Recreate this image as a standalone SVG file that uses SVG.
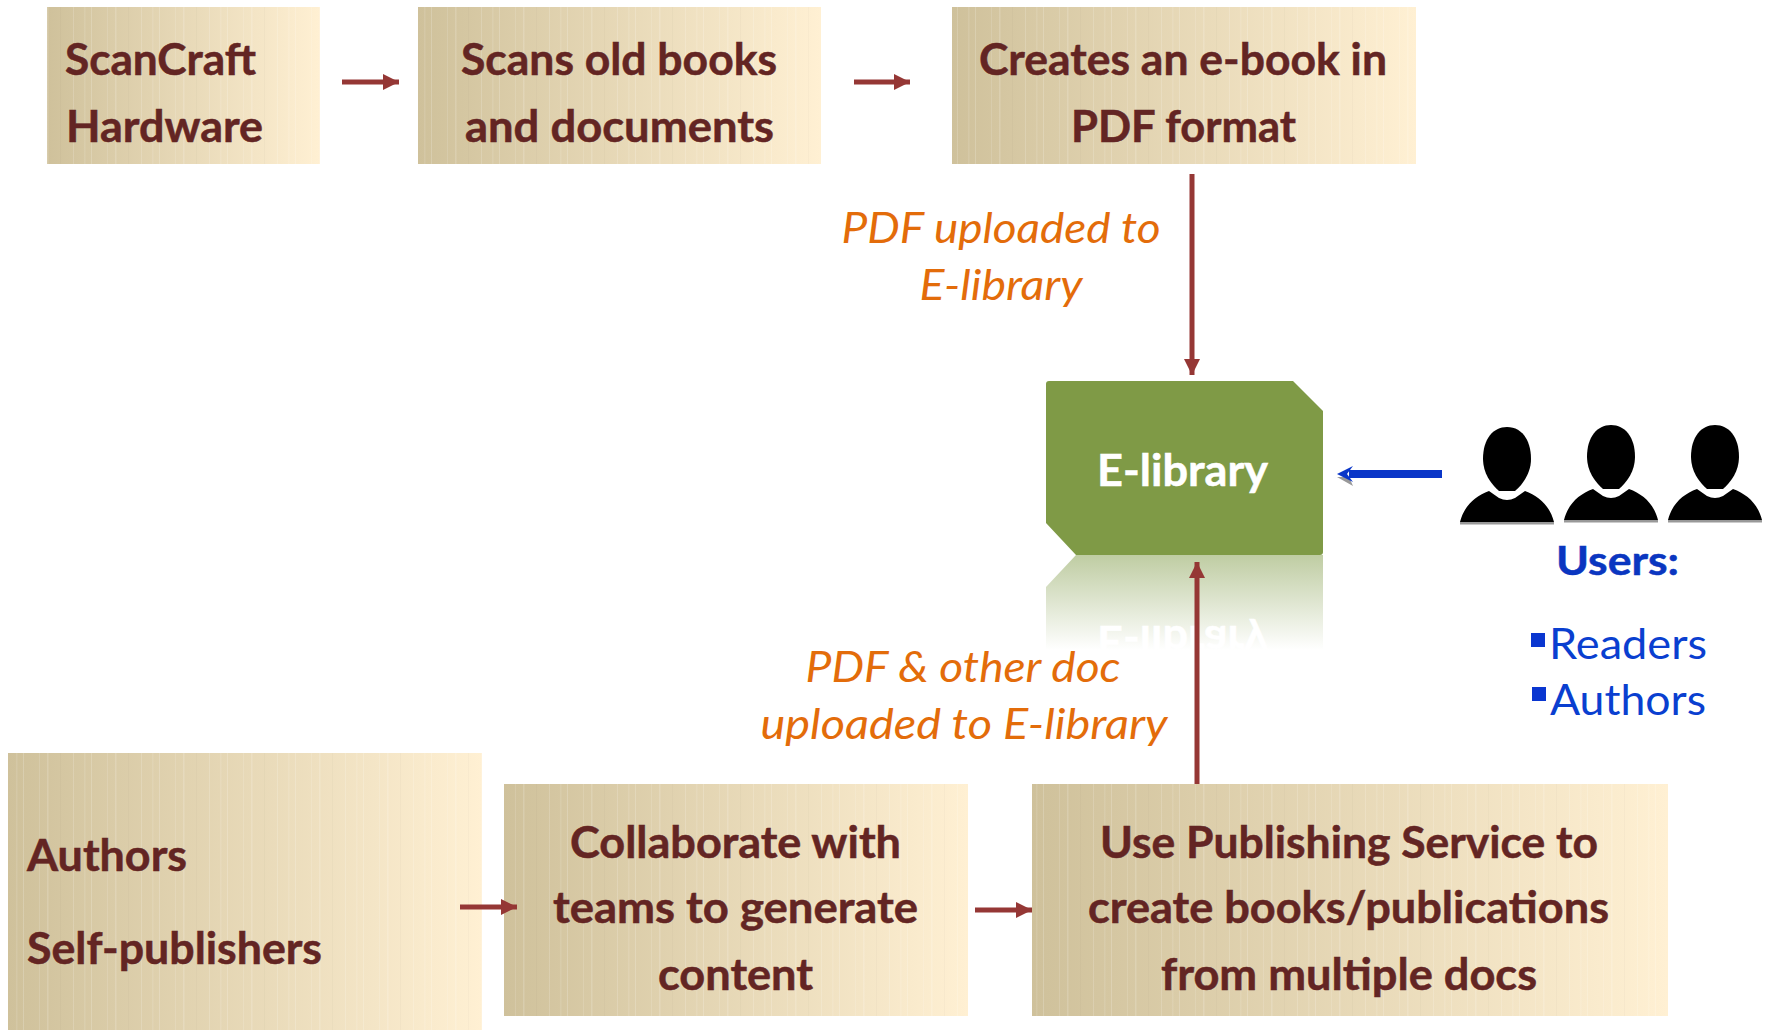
<svg xmlns="http://www.w3.org/2000/svg" width="1768" height="1030" viewBox="0 0 1768 1030">
<style>
text{font-family:"Lato","Liberation Sans",sans-serif}
.b{font-weight:700;font-size:43px;fill:#632523;stroke:#632523;stroke-width:.5}
.o{font-style:italic;font-size:43px;fill:#e36c0a;text-anchor:middle}
.line{stroke:#953735;stroke-width:5;fill:none}
.stripes{fill:url(#st)}
.lib{font-weight:700;font-size:43px;fill:#fff;stroke:#fff;stroke-width:.5}
</style>
<defs>
<linearGradient id="g"><stop offset="0" stop-color="#cfc19b"/><stop offset="1" stop-color="#fff0d3"/></linearGradient>
<pattern id="st" patternUnits="userSpaceOnUse" width="68" height="10">
<rect x="5" width="1" height="10" fill="#fff" opacity=".16"/><rect x="16" width="1.5" height="10" fill="#fff" opacity=".1"/><rect x="23" width="1" height="10" fill="#fff" opacity=".18"/><rect x="39" width="1" height="10" fill="#fff" opacity=".12"/><rect x="47" width="1.5" height="10" fill="#fff" opacity=".16"/><rect x="60" width="1" height="10" fill="#000" opacity=".02"/>
</pattern>
<linearGradient id="refl" x1="0" y1="0" x2="0" y2="1"><stop offset="0" stop-color="#7f9a46" stop-opacity=".5"/><stop offset="1" stop-color="#7f9a46" stop-opacity="0"/></linearGradient>
<clipPath id="rc"><rect x="1040" y="555" width="290" height="95"/></clipPath>
<marker id="ah" markerUnits="userSpaceOnUse" markerWidth="18" markerHeight="18" refX="16" refY="8" orient="auto"><path d="M0 0L16 8L0 16Z" fill="#953735"/></marker>
<symbol id="person" overflow="visible" viewBox="-50 -2 100 102" width="100" height="102">
<path d="M0 0C14 0 24 12 24 32C24 46 16 57 8 64L-8 64C-16 57-24 46-24 32C-24 12-14 0 0 0Z" fill="#000"/>
<path d="M-47 95C-43 79-32 69-18 64L-8 71Q0 75 8 71L18 64C32 69 43 79 47 95Z" fill="#000"/>
<rect x="-47" y="95" width="94" height="2.5" fill="#999"/>
</symbol>
</defs>
<rect width="1768" height="1030" fill="#fff"/>

<g id="node-scancraft"><rect x="47" y="7" width="273" height="157" fill="url(#g)"/><rect x="47" y="7" width="273" height="157" class="stripes"/>
<text class="b" x="65" y="75" textLength="191" lengthAdjust="spacingAndGlyphs">ScanCraft</text><text class="b" x="66" y="142" textLength="197" lengthAdjust="spacingAndGlyphs">Hardware</text></g>

<g id="node-scans"><rect x="418" y="7" width="403" height="157" fill="url(#g)"/><rect x="418" y="7" width="403" height="157" class="stripes"/>
<text class="b" x="461" y="75" textLength="316" lengthAdjust="spacingAndGlyphs">Scans old books</text><text class="b" x="465" y="142" textLength="309" lengthAdjust="spacingAndGlyphs">and documents</text></g>

<g id="node-creates"><rect x="952" y="7" width="464" height="157" fill="url(#g)"/><rect x="952" y="7" width="464" height="157" class="stripes"/>
<text class="b" x="979" y="75" textLength="408" lengthAdjust="spacingAndGlyphs">Creates an e-book in</text><text class="b" x="1071" y="142" textLength="225" lengthAdjust="spacingAndGlyphs">PDF format</text></g>

<g id="node-elibrary">
<path d="M1076 555H1323V650H1046V587Z" fill="url(#refl)"/>
<g clip-path="url(#rc)"><text class="lib" transform="translate(0 1112) scale(1 -1)" x="1097" y="486" textLength="171" lengthAdjust="spacingAndGlyphs">E-library</text></g>
<path d="M1049 381H1293L1323 411V552Q1323 555 1320 555H1076L1046 523V384Q1046 381 1049 381Z" fill="#7f9a46"/>
<text class="lib" x="1097" y="486" textLength="171" lengthAdjust="spacingAndGlyphs">E-library</text>
</g>

<g id="node-users">
<use href="#person" x="1457" y="425"/><use href="#person" x="1561" y="423"/><use href="#person" x="1665" y="423"/>
<text x="1556" y="575" textLength="123" lengthAdjust="spacingAndGlyphs" font-weight="700" fill="#0a36c0" stroke="#0a36c0" stroke-width=".5" style="font-size:41px">Users:</text>
<rect x="1531" y="633" width="14" height="14" fill="#0a36d0"/>
<text x="1549" y="659" textLength="158" lengthAdjust="spacingAndGlyphs" fill="#0a3fd0" style="font-size:43px">Readers</text>
<rect x="1532" y="687" width="14" height="14" fill="#0a36d0"/>
<text x="1550" y="715" textLength="156" lengthAdjust="spacingAndGlyphs" fill="#0a3fd0" style="font-size:43px">Authors</text>
</g>

<g id="node-authors"><rect x="8" y="753" width="474" height="277" fill="url(#g)"/><rect x="8" y="753" width="474" height="277" class="stripes"/>
<text class="b" x="27" y="871" textLength="160" lengthAdjust="spacingAndGlyphs">Authors</text><text class="b" x="27" y="964" textLength="295" lengthAdjust="spacingAndGlyphs">Self-publishers</text></g>

<g id="node-collaborate"><rect x="504" y="784" width="464" height="232" fill="url(#g)"/><rect x="504" y="784" width="464" height="232" class="stripes"/>
<text class="b" x="570" y="858" textLength="331" lengthAdjust="spacingAndGlyphs">Collaborate with</text><text class="b" x="553" y="923" textLength="365" lengthAdjust="spacingAndGlyphs">teams to generate</text><text class="b" x="658" y="990" textLength="155" lengthAdjust="spacingAndGlyphs">content</text></g>

<g id="node-publishing"><rect x="1032" y="784" width="636" height="232" fill="url(#g)"/><rect x="1032" y="784" width="636" height="232" class="stripes"/>
<text class="b" x="1100" y="858" textLength="498" lengthAdjust="spacingAndGlyphs">Use Publishing Service to</text><text class="b" x="1088" y="923" textLength="521" lengthAdjust="spacingAndGlyphs">create books/publications</text><text class="b" x="1161" y="990" textLength="376" lengthAdjust="spacingAndGlyphs">from multiple docs</text></g>

<g id="labels">
<text class="o" x="1001" y="243" textLength="319" lengthAdjust="spacingAndGlyphs">PDF uploaded to</text>
<text class="o" x="1001" y="300" textLength="163" lengthAdjust="spacingAndGlyphs">E-library</text>
<text class="o" x="963" y="682" textLength="315" lengthAdjust="spacingAndGlyphs">PDF &amp; other doc</text>
<text class="o" x="964" y="739" textLength="407" lengthAdjust="spacingAndGlyphs">uploaded to E-library</text>
</g>

<g id="connectors">
<path class="line" d="M342 82H399" marker-end="url(#ah)"/>
<path class="line" d="M854 82H910" marker-end="url(#ah)"/>
<path class="line" d="M1192 174V375" marker-end="url(#ah)"/>
<path class="line" d="M460 907L517 907" marker-end="url(#ah)"/>
<path class="line" d="M975 910L1032 910" marker-end="url(#ah)"/>
<path class="line" d="M1197 784V562" marker-end="url(#ah)"/>
<g id="blue-arrow">
<path d="M1442 477H1349L1353 486L1337 477Z" fill="#999"/>
<path d="M1442 470V478H1349V470Z" fill="#0a36c8"/>
<path d="M1353 466L1337 474L1353 482L1347 474Z" fill="#0a36c8"/>
</g>
</g>
</svg>
